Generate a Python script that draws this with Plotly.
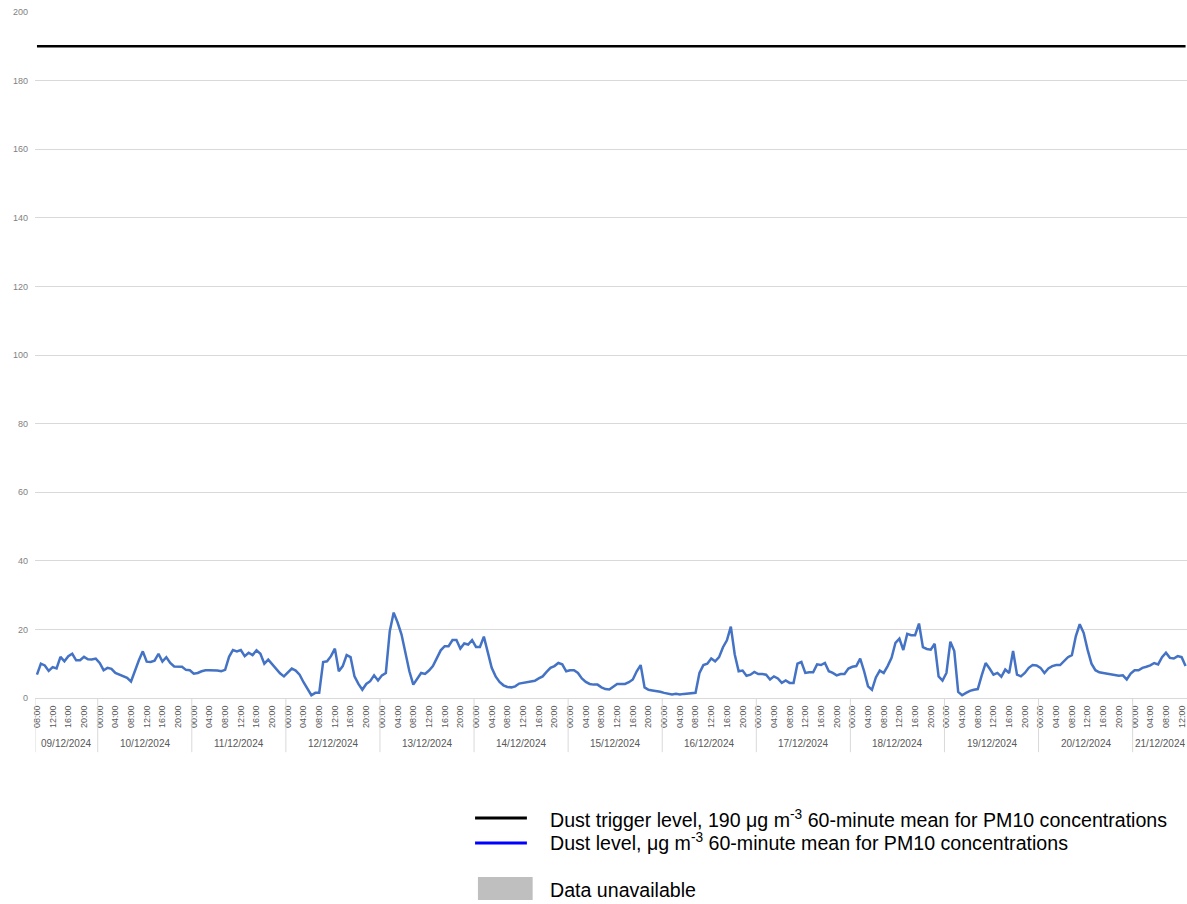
import plotly.graph_objects as go
import pandas as pd

# ---------------- data (hourly PM10 60-minute means, µg m-3) ----------------
START = "2024-12-09 08:00"
TRIGGER_LEVEL = 190

DAY_09 = [6.8, 10.0, 9.5, 7.9, 9.0, 8.6, 12.0, 10.7, 12.2, 12.9, 11.0, 11.0, 12.0, 11.3, 11.2, 11.5]
DAY_10 = [10.2, 8.1, 8.8, 8.5, 7.3, 6.8, 6.5, 5.9, 4.8, 8.0, 11.0, 13.6, 10.6, 10.5, 10.9, 12.9,
          10.6, 11.9, 10.2, 9.2, 9.1, 9.1, 8.2, 8.1]
DAY_11 = [7.1, 7.3, 7.8, 8.1, 8.1, 8.1, 8.0, 7.8, 8.2, 12.0, 14.0, 13.6, 14.0, 12.2, 13.2, 12.5,
          13.9, 12.9, 10.0, 11.2, 9.8, 8.5, 7.2, 6.3]
DAY_12 = [7.5, 8.6, 8.0, 6.8, 4.6, 2.8, 0.8, 1.5, 1.5, 10.5, 10.7, 12.2, 14.4, 7.8, 9.3, 12.5,
          11.9, 6.3, 4.1, 2.4, 4.1, 4.9, 6.6, 5.1]
DAY_13 = [6.6, 7.3, 19.5, 24.9, 22.0, 18.5, 13.0, 7.8, 3.9, 5.5, 7.3, 7.0, 8.0, 9.3, 11.7, 13.9,
          15.1, 15.1, 16.9, 16.9, 14.4, 15.9, 15.6, 16.9]
DAY_14 = [14.9, 14.9, 17.9, 13.2, 8.8, 6.3, 4.7, 3.7, 3.2, 3.1, 3.4, 4.2, 4.4, 4.4, 4.6, 5.0,
          5.7, 6.3, 7.6, 8.8, 9.3, 10.2, 9.8, 7.8]
DAY_15 = [8.1, 8.1, 7.3, 5.7, 4.7, 4.1, 3.9, 3.9, 3.1, 2.6, 2.5, 3.3, 4.1, 4.1, 4.1, 4.6,
          5.4, 7.8, 9.6, 3.1, 2.4, 2.2, 2.1, 1.8]
DAY_16 = [1.5, 1.3, 1.0, 1.2, 1.0, 1.2, 1.3, 1.5, 1.5, 7.3, 9.6, 10.0, 11.5, 10.7, 11.9, 14.8,
          16.8, 20.8, 12.7, 7.8, 8.0, 6.5, 6.8, 7.6]
DAY_17 = [7.0, 7.0, 6.8, 5.4, 6.3, 5.7, 4.4, 5.1, 4.4, 4.4, 10.0, 10.5, 7.3, 7.5, 7.5, 9.8,
          9.6, 10.2, 7.8, 7.3, 6.6, 7.0, 7.0, 8.6]
DAY_18 = [9.1, 9.3, 11.5, 7.8, 3.4, 2.4, 6.0, 8.0, 7.3, 9.3, 11.7, 16.1, 17.3, 14.0, 18.7, 18.3,
          18.3, 21.7, 14.8, 14.3, 14.1, 15.8, 6.3, 5.1]
DAY_19 = [7.3, 16.4, 13.7, 1.8, 0.8, 1.5, 2.1, 2.4, 2.6, 6.6, 10.2, 8.6, 6.8, 7.3, 6.2, 8.3,
          7.3, 13.7, 6.8, 6.3, 7.3, 8.8, 9.6, 9.5]
DAY_20 = [8.8, 7.3, 8.6, 9.3, 9.6, 9.6, 10.7, 11.9, 12.5, 18.0, 21.5, 19.0, 14.1, 10.0, 8.1, 7.5,
          7.3, 7.1, 7.0, 6.8, 6.5, 6.6, 5.4, 7.1]
DAY_21 = [8.1, 8.1, 8.8, 9.1, 9.5, 10.2, 9.8, 11.9, 13.2, 11.7, 11.5, 12.2, 11.9, 9.3]

DAYS = [DAY_09, DAY_10, DAY_11, DAY_12, DAY_13, DAY_14, DAY_15, DAY_16,
        DAY_17, DAY_18, DAY_19, DAY_20, DAY_21]

LEGEND_TRIGGER = "Dust trigger level, 190 \u03bcg m<sup>-3</sup> 60-minute mean for PM10 concentrations"
LEGEND_DUST = "Dust level, \u03bcg m<sup>-3</sup> 60-minute mean for PM10 concentrations"
LEGEND_NA = "Data unavailable"

# ---------------- build ----------------
dust = [v for d in DAYS for v in d]
times = pd.date_range(START, periods=len(dust), freq="h")
trigger = [TRIGGER_LEVEL] * len(dust)

fig = go.Figure()
fig.add_trace(go.Scatter(x=times, y=trigger, mode="lines",
                         line=dict(color="#000000", width=2.5), hoverinfo="skip"))
fig.add_trace(go.Scatter(x=times, y=dust, mode="lines",
                         line=dict(color="#4472C4", width=2.5)))

half = pd.Timedelta(minutes=30)
grey_sep = "#d9d9d9"
shapes = []
annotations = []
day_index = times.normalize()
for day in day_index.unique():
    sel = times[day_index == day]
    x_sep = sel[0] - half
    shapes.append(dict(type="line", xref="x", yref="paper", x0=x_sep, x1=x_sep,
                       y0=0, y1=-0.079, line=dict(color=grey_sep, width=1)))
    centre = sel[0] + (sel[-1] - sel[0]) / 2
    annotations.append(dict(xref="x", yref="paper", x=centre, y=-0.0656,
                            text=day.strftime("%d/%m/%Y"), showarrow=False,
                            font=dict(size=10, color="#595959", family="Liberation Sans"),
                            xanchor="center", yanchor="middle"))

# custom legend (below the plot, right side)
legend_font = dict(family="Liberation Sans, Arial", size=19.6, color="#000000")
shapes.append(dict(type="line", xref="paper", yref="paper", x0=0.382, x1=0.427,
                   y0=-0.175, y1=-0.175, line=dict(color="#000000", width=3)))
shapes.append(dict(type="line", xref="paper", yref="paper", x0=0.382, x1=0.427,
                   y0=-0.2114, y1=-0.2114, line=dict(color="#0000FF", width=3)))
shapes.append(dict(type="rect", xref="paper", yref="paper", x0=0.3845, x1=0.432,
                   y0=-0.261, y1=-0.2945, line=dict(width=0), fillcolor="#bfbfbf"))
for txt, yy in [(LEGEND_TRIGGER, -0.176), (LEGEND_DUST, -0.2095), (LEGEND_NA, -0.2795)]:
    annotations.append(dict(xref="paper", yref="paper", x=0.445, y=yy, text=txt,
                            showarrow=False, xanchor="left", yanchor="middle",
                            font=legend_font))

fig.update_layout(
    width=1187, height=904,
    margin=dict(l=35, r=0, t=12, b=206),
    plot_bgcolor="white", paper_bgcolor="white",
    showlegend=False,
    shapes=shapes, annotations=annotations,
    xaxis=dict(type="date",
               range=[times[0] - half, times[-1] + pd.Timedelta(minutes=22)],
               tick0="2024-12-09 00:00", dtick=4 * 3600 * 1000, tickformat="%H:%M",
               tickangle=-90, tickfont=dict(size=9, color="#595959", family="Liberation Sans"),
               showgrid=False, showline=True, linecolor=grey_sep, linewidth=1,
               ticks="", ticklabelstandoff=3, zeroline=False),
    yaxis=dict(range=[0, 200], dtick=20, showgrid=True, gridcolor=grey_sep, gridwidth=1,
               tickfont=dict(size=9, color="#7f7f7f", family="Liberation Sans"),
               zeroline=False, showline=False, ticks="", ticklabelstandoff=6),
)

fig.write_html("out.html")
